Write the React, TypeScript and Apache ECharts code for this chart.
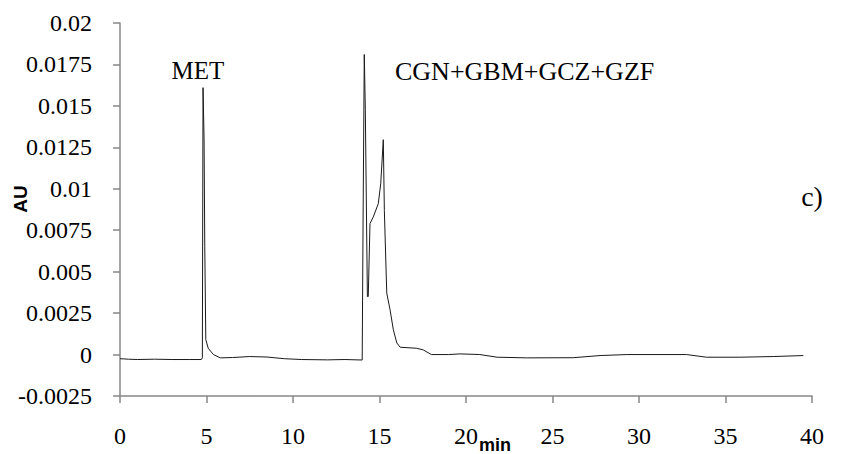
import React, { useEffect, useRef } from "react";
import * as echarts from "echarts";

// Retention time (min)
const timeMin: number[] = [
  0, 0.5, 1, 2, 3, 4, 4.7, 4.76, 4.8, 4.86, 4.9, 4.96, 5.1, 5.4, 5.8, 6.5, 7.5, 8.5, 9.5, 10.5, 12, 13, 14,
  14.05, 14.12, 14.18, 14.3, 14.35, 14.45, 14.64, 14.93, 15.07, 15.22, 15.28, 15.42, 15.61, 15.8, 16.0, 16.2,
  17.15, 17.53, 18.0, 19.0, 19.65, 20.8, 21.8, 23.5, 26.2, 27.75, 29.3, 32.75, 33.9, 35.84, 37.76, 39.5,
];
// Absorbance (AU)
const absorbanceAU: number[] = [
  -0.00025, -0.00028, -0.0003, -0.00028, -0.0003, -0.0003, -0.0003, -0.0002, 0.0161, 0.013, 0.0065, 0.0009,
  0.00038, 0.0, -0.0002, -0.00018, -0.00012, -0.00015, -0.00025, -0.0003, -0.00032, -0.0003, -0.00033,
  0.008, 0.0181, 0.0148, 0.0035, 0.0035, 0.0079, 0.0083, 0.0091, 0.0103, 0.01296, 0.0087, 0.0037, 0.0027,
  0.0015, 0.0007, 0.00044, 0.00038, 0.00028, 0.0, 0.0, 0.00004, 0.0, -0.00016, -0.0002, -0.00019, -0.00006,
  0.0, 0.0, -0.00016, -0.00016, -0.00012, -0.00006,
];

const xTicks = { min: 0, max: 40, interval: 5 };
const yTicks = { min: -0.0025, max: 0.02, interval: 0.0025 };
const peakLabels = ["MET", "CGN+GBM+GCZ+GZF"];
const panelLabel = "c)";
const yAxisTitle = "AU";
const xAxisTitle = "min";

export default function App() {
  const ref = useRef<HTMLDivElement>(null);
  useEffect(() => {
    document.body.style.margin = "0";
    if (!ref.current) return;
    const chart = echarts.init(ref.current, undefined, { renderer: "svg" });
    const data = timeMin.map((t, i) => [t, absorbanceAU[i]]);
    const serif = "Liberation Serif";
    const sans = "Liberation Sans";
    const axisColor = "#878787";
    const txt = (text: string, x: number, y: number, size: number, family: string, extra: any = {}) => ({
      type: "text",
      x,
      y,
      rotation: extra.rotation || 0,
      style: {
        text,
        fontFamily: family,
        fontSize: size,
        fontWeight: extra.bold ? "bold" : "normal",
        fill: "#000",
        align: extra.align || "center",
        verticalAlign: "middle",
      },
    });
    chart.setOption({
      animation: false,
      grid: { left: 120, right: 40, top: 23, bottom: 58 },
      xAxis: {
        type: "value",
        min: xTicks.min,
        max: xTicks.max,
        interval: xTicks.interval,
        splitLine: { show: false },
        axisLine: { onZero: false, lineStyle: { color: axisColor, width: 1.5 } },
        axisTick: { show: true, length: 7, lineStyle: { color: axisColor, width: 1.5 } },
        axisLabel: { color: "#000", fontFamily: serif, fontSize: 24, margin: 28 },
      },
      yAxis: {
        type: "value",
        min: yTicks.min,
        max: yTicks.max,
        interval: yTicks.interval,
        splitLine: { show: false },
        axisLine: { show: true, lineStyle: { color: axisColor, width: 1.5 } },
        axisTick: { show: true, length: 7, lineStyle: { color: axisColor, width: 1.5 } },
        axisLabel: {
          color: "#000",
          fontFamily: serif,
          fontSize: 24,
          margin: 28,
          formatter: (v: number) => parseFloat(v.toFixed(4)).toString(),
        },
      },
      series: [
        {
          type: "line",
          data,
          symbol: "none",
          lineStyle: { color: "#1a1a1a", width: 1 },
        },
      ],
      graphic: [
        txt(peakLabels[0], 198, 70, 25, serif),
        txt(peakLabels[1], 395, 71, 26, serif, { align: "left" }),
        txt(panelLabel, 812, 196, 28, serif),
        txt(yAxisTitle, 20, 199, 19, sans, { rotation: Math.PI / 2, bold: true }),
        txt(xAxisTitle, 495, 445, 18, sans, { bold: true }),
      ],
    });
    return () => chart.dispose();
  }, []);
  return <div ref={ref} style={{ width: 852, height: 454 }} />;
}
